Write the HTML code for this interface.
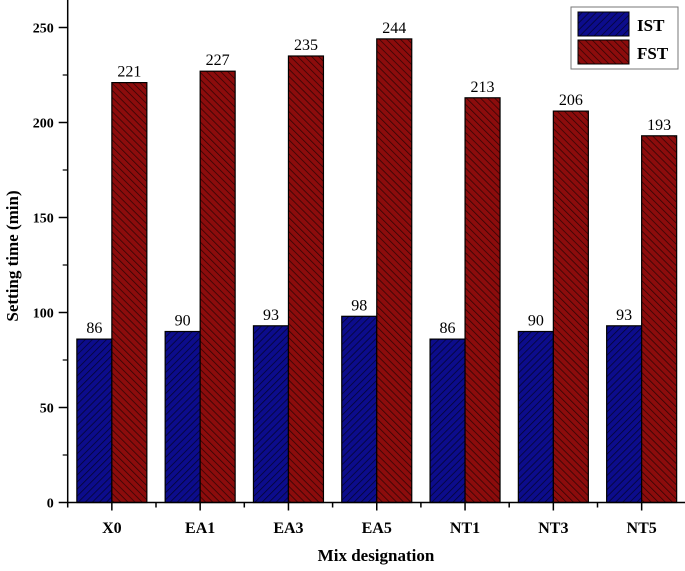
<!DOCTYPE html>
<html><head><meta charset="utf-8"><style>
html,body{margin:0;padding:0;background:#fff;}
svg{display:block;font-family:"Liberation Serif",serif;}
</style></head><body>
<svg id="chart" width="685" height="571" viewBox="0 0 685 571">
<defs>
<pattern id="hb" patternUnits="userSpaceOnUse" width="5" height="5" patternTransform="rotate(45)">
<rect width="5" height="5" fill="#0c0c8c"/><line x1="0" y1="0" x2="0" y2="5" stroke="#04042e" stroke-width="1.5"/>
</pattern>
<pattern id="hr" patternUnits="userSpaceOnUse" width="5" height="5" patternTransform="rotate(-45)">
<rect width="5" height="5" fill="#8c0c0c"/><line x1="0" y1="0" x2="0" y2="5" stroke="#2e0404" stroke-width="1.5"/>
</pattern>
</defs>
<g id="bars"></g>
<g id="axes"></g>
<text x="376" y="561" text-anchor="middle" font-weight="bold" font-size="17">Mix designation</text>
<text transform="translate(18,256) rotate(-90)" text-anchor="middle" font-weight="bold" font-size="17">Setting time (min)</text>
<g>
<rect x="571" y="7" width="107" height="62" fill="#fff" stroke="#777" stroke-width="1"/>
<rect x="578" y="12" width="51" height="24" fill="url(#hb)" stroke="#000"/>
<text x="637" y="31" font-weight="bold" font-size="17">IST</text>
<rect x="578" y="40" width="51" height="24" fill="url(#hr)" stroke="#000"/>
<text x="637" y="59" font-weight="bold" font-size="17">FST</text>
</g>
</svg>
<script>
const categories = ["X0","EA1","EA3","EA5","NT1","NT3","NT5"];
const istValues = [86,90,93,98,86,90,93];
const fstValues = [221,227,235,244,213,206,193];
const yTicks = [0,50,100,150,200,250];

const NS = "http://www.w3.org/2000/svg";
const x0 = 67.7, y0 = 502.5, pxPerUnit = 1.9, step = 88.3, barW = 35;
function yScale(v){ return y0 - v*pxPerUnit; }
function xCenter(i){ return x0 + step*(i+0.5); }
function mk(tag, attrs, parent){ const e=document.createElementNS(NS,tag); for(const k in attrs) e.setAttribute(k,attrs[k]); parent.appendChild(e); return e; }
const bars = document.getElementById('bars'), axes = document.getElementById('axes');

categories.forEach((c,i)=>{
  const cx = xCenter(i);
  [[istValues[i],'url(#hb)',cx-barW,'ist'],[fstValues[i],'url(#hr)',cx,'fst']].forEach(([v,fill,x,s])=>{
    const r = mk('rect',{x:x,y:yScale(v),width:barW,height:y0-yScale(v),fill:fill,stroke:'#000','stroke-width':1.2},bars);
    
    
    const t = mk('text',{x:x+barW/2,y:yScale(v)-6,'text-anchor':'middle','font-size':16},bars);
    t.textContent = v;
    
    
  });
  mk('line',{x1:cx,y1:y0,x2:cx,y2:y0+8,stroke:'#000','stroke-width':1.5},axes);
  mk('line',{x1:x0+step*i,y1:y0,x2:x0+step*i,y2:y0+5,stroke:'#000','stroke-width':1.5},axes);
  const l = mk('text',{x:cx,y:533,'text-anchor':'middle','font-size':16,'font-weight':'bold'},axes);
  l.textContent = c;
  
  
});
mk('line',{x1:x0,y1:0,x2:x0,y2:y0,stroke:'#000','stroke-width':1.5},axes);
mk('line',{x1:x0,y1:y0,x2:685,y2:y0,stroke:'#000','stroke-width':1.5},axes);
yTicks.forEach(v=>{
  const y = yScale(v);
  mk('line',{x1:x0-9,y1:y,x2:x0,y2:y,stroke:'#000','stroke-width':1.5},axes);
  mk('line',{x1:x0-5,y1:yScale(v+25),x2:x0,y2:yScale(v+25),stroke:'#000','stroke-width':1.2},axes);
  const t = mk('text',{x:x0-14,y:y+5,'text-anchor':'end','font-size':14,'font-weight':'bold'},axes);
  t.textContent = v;
  
  
});
</script>
</body></html>
